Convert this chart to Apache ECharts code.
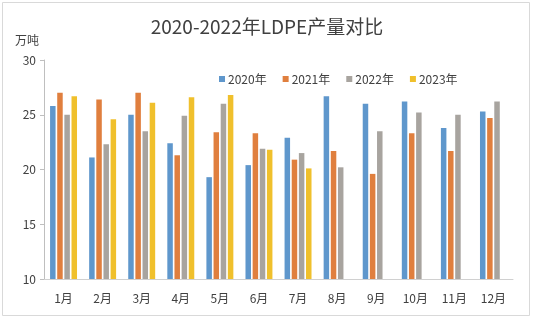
<!DOCTYPE html>
<html><head><meta charset="utf-8">
<script src="https://cdn.jsdelivr.net/npm/echarts@6/dist/echarts.min.js"></script>
<style>html,body{margin:0;padding:0;background:#fff}#c{width:534px;height:323px}</style>
</head><body><div id="c"></div>
<script>
const categories = ['1月','2月','3月','4月','5月','6月','7月','8月','9月','10月','11月','12月'];
const seriesNames = ['2020年','2021年','2022年','2023年'];
const v2020 = [25.8, 21.1, 25.0, 22.4, 19.3, 20.4, 22.9, 26.7, 26.0, 26.2, 23.8, 25.3];
const v2021 = [27.0, 26.4, 27.0, 21.3, 23.4, 23.3, 20.9, 21.7, 19.6, 23.3, 21.7, 24.7];
const v2022 = [25.0, 22.3, 23.5, 24.9, 26.0, 21.9, 21.5, 20.2, 23.5, 25.2, 25.0, 26.2];
const v2023 = [26.7, 24.6, 26.1, 26.6, 26.8, 21.8, 20.1, null, null, null, null, null];
const yTicks = {min: 10, max: 30, interval: 5};
const colors = ['#5f97cc', '#e07f3e', '#a8a49f', '#f0c02c'];

const chart = echarts.init(document.getElementById('c'));
const font = "'Noto Sans CJK SC', 'Noto Sans', sans-serif";
const allData = [v2020, v2021, v2022, v2023];
chart.setOption({
  backgroundColor: '#fff',
  textStyle: {fontFamily: font},
  title: {
    text: '2020-2022年LDPE产量对比', left: 'center', top: 12,
    textStyle: {fontSize: 19, fontWeight: 'normal', color: '#404040', fontFamily: font}
  },
  legend: {
    data: seriesNames, left: 214, top: 68, itemWidth: 6, itemHeight: 6, itemGap: 16,
    icon: 'rect',
    textStyle: {fontSize: 12, color: '#404040', fontFamily: font, padding: [0,0,0,-2]}
  },
  grid: {left: 44, right: 21, top: 60, bottom: 44},
  xAxis: {
    type: 'category', data: categories,
    axisLine: {lineStyle: {color: '#d0d0d0'}},
    axisTick: {show: false},
    axisLabel: {color: '#404040', fontSize: 12, margin: 13, fontFamily: font}
  },
  yAxis: {
    type: 'value', min: yTicks.min, max: yTicks.max, interval: yTicks.interval,
    name: '万吨', nameLocation: 'end', nameGap: 14,
    nameTextStyle: {color: '#404040', fontSize: 12, align: 'right', padding: [0, 5, 0, 0], fontFamily: font},
    axisLine: {show: true, lineStyle: {color: '#bfbfbf'}},
    axisTick: {show: true, length: 4, lineStyle: {color: '#bfbfbf'}},
    splitLine: {show: false},
    axisLabel: {color: '#404040', fontSize: 12, margin: 8, fontFamily: font}
  },
  series: seriesNames.map((n, i) => ({
    name: n, type: 'bar', data: allData[i], barWidth: 5.5, barGap: '30%',
    itemStyle: {color: colors[i]}
  })),
  graphic: [{
    type: 'rect', shape: {x: 2.5, y: 2.5, width: 527, height: 313},
    style: {fill: 'none', stroke: '#d9d9d9', lineWidth: 1}, silent: true
  }]
});
</script></body></html>
